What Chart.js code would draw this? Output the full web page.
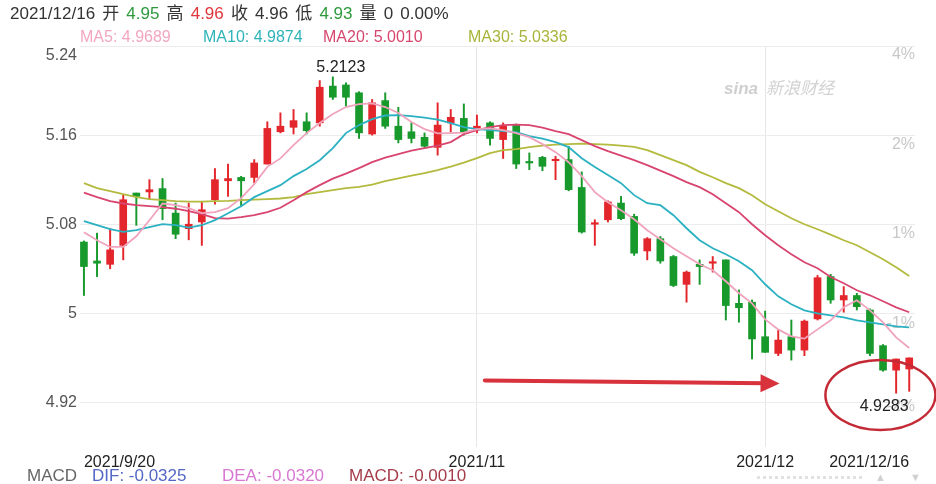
<!DOCTYPE html>
<html>
<head>
<meta charset="utf-8">
<script src="https://cdn.jsdelivr.net/npm/chart.js@4.4.0/dist/chart.umd.min.js"></script>
<style>
  body { margin: 0; background: #fff; }
  #wrap { position: relative; width: 936px; height: 484px; font-family: "Liberation Sans", Arial, "Noto Sans CJK SC", sans-serif; }
  #wrap canvas { position: absolute; left: 0; top: 0; }
  .t { position: absolute; white-space: nowrap; line-height: 1; }
  .g { color: #2f9a3d; }
  .r { color: #e0363b; }
</style>
</head>
<body>
<div id="wrap">
  <canvas id="kline" width="936" height="484"></canvas>
  <div class="t" style="left:10px;top:5px;font-size:17px;color:#333;word-spacing:2.4px">2021/12/16 开 <span class="g">4.95</span> 高 <span class="r">4.96</span> 收 4.96 低 <span class="g">4.93</span> 量 0 0.00%</div>
  <div class="t" style="left:80px;top:29px;font-size:16px;color:#f2a6c0">MA5: 4.9689</div>
  <div class="t" style="left:203px;top:29px;font-size:16px;color:#2fb3b8">MA10: 4.9874</div>
  <div class="t" style="left:323px;top:29px;font-size:16px;color:#d6476d">MA20: 5.0010</div>
  <div class="t" style="left:468px;top:29px;font-size:16px;color:#a9b53a">MA30: 5.0336</div>
  <div class="t" style="left:724px;top:80px;font-size:17px;color:#cfcfcf;font-style:italic;font-weight:bold">sina</div>
  <div class="t" style="left:766px;top:80px;font-size:17px;color:#d2d2d2;font-style:italic">新浪财经</div>
  <div class="t" style="left:27px;top:467px;font-size:17px;color:#666">MACD</div>
  <div class="t" style="left:92px;top:467px;font-size:17px;color:#5468c4">DIF: -0.0325</div>
  <div class="t" style="left:222px;top:467px;font-size:17px;color:#d877d2">DEA: -0.0320</div>
  <div class="t" style="left:349px;top:467px;font-size:17px;color:#a43c4a">MACD: -0.0010</div>
  <div style="position:absolute;left:757px;top:476px;width:105px;border-top:3px dotted #e2e2e2"></div>
  <div class="t" style="left:875px;top:472px;font-size:11px;color:#d0d0d0">▲</div>
  <div class="t" style="left:910px;top:472px;font-size:11px;color:#d0d0d0">▼</div>
</div>
<script>
// 日K数据 2021/9/20 - 2021/12/16
const opens  = [5.064,5.047,5.044,5.061,5.108,5.109,5.112,5.090,5.076,5.082,
                5.102,5.119,5.122,5.122,5.134,5.163,5.167,5.172,5.171,5.204,
                5.205,5.198,5.161,5.191,5.168,5.163,5.158,5.149,5.171,5.175,
                5.165,5.171,5.156,5.169,5.136,5.140,5.137,5.138,5.113,5.080,
                5.084,5.099,5.087,5.056,5.067,5.051,5.026,5.044,5.045,5.048,
                5.009,5.010,4.979,4.964,4.979,4.967,4.995,5.033,5.012,5.016,
                5.003,4.971,4.949,4.95];
const highs  = [5.065,5.072,5.076,5.106,5.108,5.120,5.121,5.099,5.099,5.100,
                5.130,5.134,5.123,5.138,5.172,5.180,5.183,5.180,5.209,5.2123,
                5.207,5.199,5.192,5.198,5.185,5.171,5.162,5.189,5.183,5.188,
                5.178,5.172,5.171,5.170,5.144,5.141,5.141,5.150,5.127,5.084,
                5.101,5.105,5.089,5.068,5.069,5.052,5.038,5.048,5.051,5.048,
                5.021,5.012,5.002,4.985,4.994,4.994,5.034,5.035,5.024,5.018,
                5.004,4.972,4.959,4.96];
const lows   = [5.016,5.033,5.040,5.048,5.079,5.102,5.084,5.067,5.066,5.061,
                5.098,5.105,5.096,5.117,5.134,5.162,5.161,5.161,5.168,5.192,
                5.186,5.157,5.160,5.166,5.153,5.153,5.149,5.142,5.163,5.160,
                5.162,5.151,5.139,5.130,5.129,5.128,5.120,5.110,5.072,5.061,
                5.082,5.084,5.052,5.048,5.045,5.024,5.010,5.026,5.037,4.994,
                4.992,4.959,4.965,4.962,4.958,4.962,4.994,5.009,5.001,5.003,
                4.962,4.948,4.9283,4.93];
const closes = [5.042,5.045,5.057,5.102,5.105,5.111,5.094,5.071,5.080,5.093,
                5.120,5.121,5.119,5.135,5.166,5.168,5.173,5.164,5.203,5.194,
                5.194,5.162,5.189,5.168,5.156,5.157,5.150,5.169,5.176,5.163,
                5.168,5.157,5.168,5.134,5.135,5.132,5.138,5.111,5.073,5.081,
                5.100,5.085,5.054,5.067,5.047,5.025,5.037,5.042,5.046,5.007,
                5.005,4.977,4.965,4.976,4.967,4.993,5.032,5.012,5.016,5.006,
                4.964,4.949,4.959,4.96];

// 均线
const ma5  = [5.0728,5.0656,5.0596,5.0596,5.0692,5.0836,5.0986,5.0971,5.0944,5.0899,
              5.0908,5.0944,5.1034,5.1160,5.1315,5.1391,5.1510,5.1618,5.1708,5.1789,
              5.1852,5.1879,5.1885,5.1852,5.1798,5.1717,5.1654,5.1615,5.1618,5.1623,
              5.1654,5.1660,5.1645,5.1618,5.1582,5.1519,5.1447,5.1357,5.1232,5.1088,
              5.0998,5.0926,5.0845,5.0746,5.0665,5.0584,5.0512,5.0441,5.0387,5.0288,
              5.0180,5.0090,4.9946,4.9856,4.9793,4.9773,4.9856,4.9937,5.0054,5.0117,
              5.0027,4.9919,4.9784,4.9689];
const ma10 = [5.0827,5.0791,5.0755,5.0731,5.0746,5.0773,5.0800,5.0791,5.0770,5.0791,
              5.0836,5.0899,5.0962,5.1043,5.1097,5.1151,5.1232,5.1295,5.1375,5.1483,
              5.1618,5.1690,5.1744,5.1776,5.1780,5.1771,5.1757,5.1739,5.1708,5.1672,
              5.1654,5.1645,5.1636,5.1627,5.1591,5.1569,5.1537,5.1492,5.1393,5.1313,
              5.1241,5.1169,5.1061,5.0989,5.0971,5.0881,5.0764,5.0656,5.0584,5.0530,
              5.0467,5.0387,5.0261,5.0153,5.0081,5.0027,5.0000,4.9982,4.9964,4.9937,
              4.9919,4.9901,4.9883,4.9874];
const ma20 = [5.1083,5.1043,5.1007,5.0986,5.0971,5.0962,5.0953,5.0939,5.0917,5.0890,
              5.0854,5.0850,5.0863,5.0881,5.0908,5.0948,5.1016,5.1088,5.1151,5.1209,
              5.1254,5.1304,5.1357,5.1398,5.1429,5.1461,5.1483,5.1506,5.1537,5.1609,
              5.1645,5.1672,5.1690,5.1695,5.1690,5.1668,5.1636,5.1609,5.1555,5.1501,
              5.1456,5.1416,5.1375,5.1331,5.1281,5.1232,5.1178,5.1133,5.1070,5.0989,
              5.0908,5.0800,5.0701,5.0611,5.0530,5.0458,5.0405,5.0326,5.0270,5.0207,
              5.0162,5.0108,5.0054,5.0010];
const ma30 = [5.1169,5.1124,5.1097,5.1070,5.1043,5.1025,5.1016,5.1007,5.1002,5.1002,
              5.1007,5.1009,5.1016,5.1020,5.1025,5.1031,5.1043,5.1070,5.1088,5.1106,
              5.1124,5.1135,5.1155,5.1187,5.1211,5.1236,5.1258,5.1285,5.1317,5.1353,
              5.1393,5.1438,5.1465,5.1474,5.1492,5.1506,5.1515,5.1519,5.1524,5.1519,
              5.1515,5.1506,5.1495,5.1465,5.1420,5.1375,5.1330,5.1270,5.1222,5.1169,
              5.1124,5.1061,5.0980,5.0917,5.0854,5.0800,5.0755,5.0706,5.0656,5.0611,
              5.0548,5.0485,5.0413,5.0336];

// 坐标轴刻度
const yTicks = [4.92, 5, 5.08, 5.16, 5.24];
const yTickLabels = ['4.92', '5', '5.08', '5.16', '5.24'];
const pctTicks = [4.9160, 4.9910, 5.0719, 5.1519, 5.2319];
const pctTickLabels = ['-2%', '-1%', '1%', '2%', '4%'];
const xTickIdx = [0, 30, 52, 63];
const xTickLabels = ['2021/9/20', '2021/11', '2021/12', '2021/12/16'];
const gridIdx = [30, 52];

const RED = '#e3262b';
const GREEN = '#17992c';
const corDoCandle = closes.map((c, i) => c >= opens[i] ? RED : GREEN);

const serie = arr => arr.map((v, i) => ({ x: i, y: v }));

// Plugin: marca máx/mín, seta e elipse
const anotacoes = {
  id: 'anotacoes',
  afterDatasetsDraw(chart) {
    const { ctx, scales: { x, y } } = chart;
    ctx.save();
    ctx.font = '16px "Liberation Sans", Arial, sans-serif';
    ctx.fillStyle = '#222';
    ctx.textAlign = 'center';

    const iMax = highs.indexOf(Math.max(...highs));
    ctx.textBaseline = 'bottom';
    ctx.fillText(highs[iMax].toFixed(4), x.getPixelForValue(iMax) + 8, y.getPixelForValue(highs[iMax]) - 1);

    const iMin = lows.indexOf(Math.min(...lows));
    ctx.textBaseline = 'top';
    ctx.fillText(lows[iMin].toFixed(4), x.getPixelForValue(iMin) - 12, y.getPixelForValue(lows[iMin]) + 5);

    // seta vermelha
    const x1 = x.getPixelForValue(30.6), y1 = y.getPixelForValue(4.9398);
    const x2 = x.getPixelForValue(53.1), y2 = y.getPixelForValue(4.9371);
    const ang = Math.atan2(y2 - y1, x2 - x1);
    ctx.strokeStyle = '#d8323c';
    ctx.fillStyle = '#d8323c';
    ctx.lineWidth = 4;
    ctx.lineCap = 'round';
    ctx.beginPath();
    ctx.moveTo(x1, y1);
    ctx.lineTo(x2 - 14 * Math.cos(ang), y2 - 14 * Math.sin(ang));
    ctx.stroke();
    ctx.beginPath();
    ctx.moveTo(x2, y2);
    ctx.lineTo(x2 - 19 * Math.cos(ang) + 9 * Math.sin(ang), y2 - 19 * Math.sin(ang) - 9 * Math.cos(ang));
    ctx.lineTo(x2 - 19 * Math.cos(ang) - 9 * Math.sin(ang), y2 - 19 * Math.sin(ang) + 9 * Math.cos(ang));
    ctx.closePath();
    ctx.fill();

    // elipse em volta da mínima
    ctx.strokeStyle = '#c42a36';
    ctx.lineWidth = 2.5;
    ctx.beginPath();
    ctx.ellipse(x.getPixelForValue(60.8), y.getPixelForValue(4.9267), 55, 35, 0, 0, Math.PI * 2);
    ctx.stroke();
    ctx.restore();
  }
};

Chart.defaults.font.family = '"Liberation Sans", Arial, sans-serif';

new Chart(document.getElementById('kline'), {
  type: 'bar',
  data: {
    datasets: [
      { type: 'line', data: serie(ma5),  borderColor: '#f0a3bc', borderWidth: 1.8, pointRadius: 0 },
      { type: 'line', data: serie(ma10), borderColor: '#2bb1c1', borderWidth: 1.8, pointRadius: 0 },
      { type: 'line', data: serie(ma20), borderColor: '#d8456f', borderWidth: 1.8, pointRadius: 0 },
      { type: 'line', data: serie(ma30), borderColor: '#b3ba3d', borderWidth: 1.8, pointRadius: 0 },
      {
        data: opens.map((o, i) => ({ x: i, y: [o, closes[i]] })),
        backgroundColor: corDoCandle,
        barThickness: 7,
        minBarLength: 1.5,
        grouped: false
      },
      {
        data: lows.map((l, i) => ({ x: i, y: [l, highs[i]] })),
        backgroundColor: corDoCandle,
        barThickness: 1.3,
        grouped: false
      }
    ]
  },
  options: {
    responsive: false,
    animation: false,
    layout: { padding: { top: 46, right: 21, left: 0, bottom: 0 } },
    plugins: { legend: { display: false }, tooltip: { enabled: false } },
    scales: {
      x: {
        type: 'linear',
        min: -0.3,
        max: 63.44,
        offset: false,
        afterBuildTicks: s => { s.ticks = xTickIdx.map(v => ({ value: v })); },
        afterFit: s => { s.height = 37; },
        ticks: {
          align: 'inner', maxRotation: 0, autoSkip: false, padding: 6,
          color: '#222', font: { size: 16 },
          callback: (v, i) => xTickLabels[i]
        },
        grid: {
          offset: false, drawTicks: false,
          color: c => (c.tick && gridIdx.includes(c.tick.value)) ? '#e6e6e6' : 'rgba(0,0,0,0)'
        },
        border: { display: false }
      },
      y: {
        min: 4.88,
        max: 5.24,
        afterBuildTicks: s => { s.ticks = yTicks.map(v => ({ value: v })); },
        afterFit: s => { s.width = 80; },
        ticks: {
          color: '#555', font: { size: 16 }, padding: 3,
          // o rótulo do topo fica logo abaixo da linha
          callback: (v, i) => i === yTicks.length - 1 ? ['', yTickLabels[i]] : yTickLabels[i]
        },
        grid: { color: '#ececec', drawTicks: false },
        border: { display: false }
      },
      y2: {
        position: 'right',
        min: 4.88,
        max: 5.24,
        afterBuildTicks: s => { s.ticks = pctTicks.map(v => ({ value: v })); },
        afterFit: s => { s.width = 0; },
        ticks: { mirror: true, padding: 0, color: '#c8c8c8', font: { size: 16 }, callback: (v, i) => pctTickLabels[i] },
        grid: { display: false },
        border: { display: false }
      }
    }
  },
  plugins: [anotacoes]
});
</script>
</body>
</html>
